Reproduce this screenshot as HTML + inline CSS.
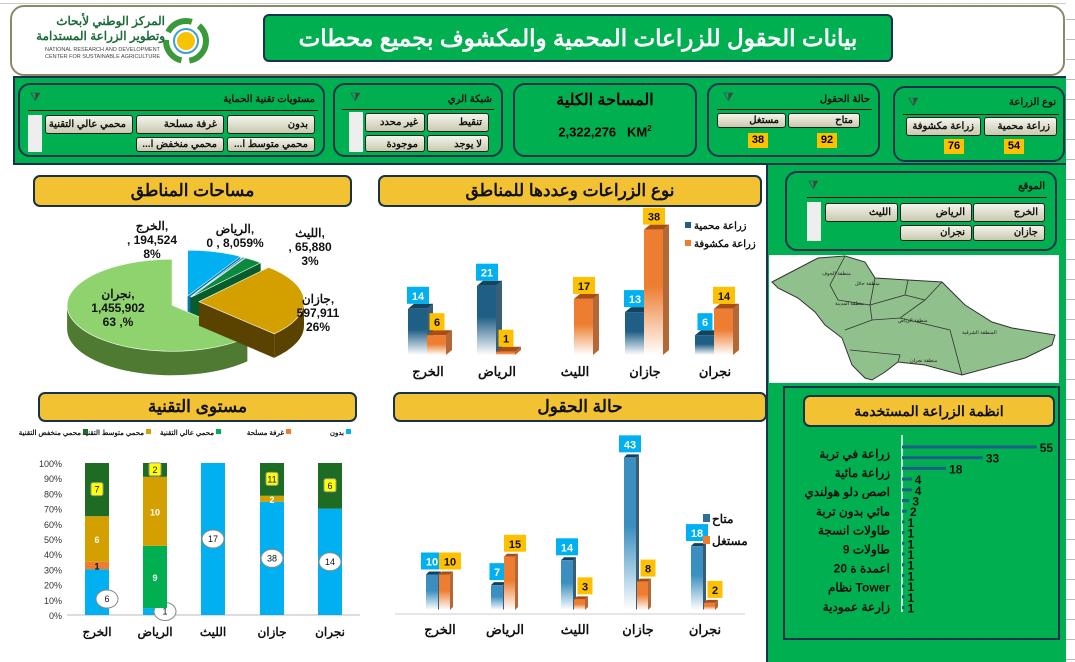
<!DOCTYPE html>
<html><head><meta charset="utf-8">
<style>
*{box-sizing:border-box;margin:0;padding:0}
body{width:1075px;height:662px;overflow:hidden;background:#fff;font-family:"Liberation Sans","Noto Sans CJK SC",sans-serif;position:relative}
.abs{position:absolute}
.green{background:#00b050}
.box{position:absolute;border:2px solid #17324a;border-radius:12px}
.title{position:absolute;background:#f2c232;border:2px solid #17324a;border-radius:7px;text-align:center;font-weight:bold;font-size:17px;color:#111;direction:rtl}
.btn{position:absolute;height:19px;border:1px solid #222;border-radius:3px;background:linear-gradient(#f4f4ec,#c9c9ae);font-size:10px;font-weight:bold;direction:rtl;text-align:right;padding:3px 6px 0;color:#111;white-space:nowrap;overflow:hidden}
.stitle{position:absolute;font-size:10px;font-weight:bold;direction:rtl;color:#111}
.sline{position:absolute;height:1px;background:#111}
.num{position:absolute;background:#ffc000;font-size:11px;font-weight:bold;text-align:center;line-height:15px;height:15px;width:20px}
.ico{position:absolute;font-size:12px;color:#444}
.white{position:absolute;background:#eee;width:14px}
svg text{font-family:"Liberation Sans","Noto Sans CJK SC",sans-serif}
</style></head><body>
<div class="abs" style="left:0;top:0;width:1075px;height:4px;border-bottom:1px solid #ccc"></div>
<div class="abs" style="left:1066px;top:0;width:9px;height:662px;background:repeating-linear-gradient(#fff 0 19px,#bbb 19px 20px)"></div>

<div class="abs" style="left:10px;top:5px;width:1055px;height:71px;border:2px solid #8a8a6a;border-radius:14px;background:#fff"></div>
<div class="abs" style="left:40px;top:14px;width:175px;height:55px">
  <svg width="175" height="55" style="position:absolute;left:0;top:0">
    <circle cx="146" cy="27" r="20" fill="none" stroke="#3a9a3a" stroke-width="6" stroke-dasharray="28 8"/>
    <circle cx="146" cy="27" r="12" fill="none" stroke="#3aa0d8" stroke-width="2"/>
    <circle cx="146" cy="27" r="9" fill="#f5c400"/>
  </svg>
  <div class="abs" style="right:50px;top:0;font-size:12px;font-weight:bold;color:#1d6b3a;direction:rtl;text-align:right;line-height:15px;white-space:nowrap">المركز الوطني لأبحاث<br>وتطوير الزراعة المستدامة</div>
  <div class="abs" style="left:5px;top:33px;font-size:5.5px;color:#444;line-height:7px;white-space:nowrap">NATIONAL RESEARCH AND DEVELOPMENT<br>CENTER FOR SUSTAINABLE AGRICULTURE</div>
</div>
<div class="abs" style="left:263px;top:14px;width:630px;height:48px;background:#00b050;border:2px solid #17324a;border-radius:6px;color:#fff;font-size:23px;font-weight:bold;text-align:center;line-height:44px;direction:rtl">بيانات الحقول للزراعات المحمية والمكشوف بجميع محطات</div>

<div class="abs green" style="left:13px;top:76px;width:1053px;height:89px;border:2px solid #17324a;border-right:none"></div>

<div class="box" style="left:18px;top:83px;width:307px;height:74px"></div>
<div class="stitle" style="left:200px;top:94px;width:115px;text-align:right">مستويات تقنية الحماية</div>
<div class="ico" style="left:30px;top:90px">⧩</div>
<div class="sline" style="left:28px;top:110px;width:290px"></div>
<div class="white" style="left:28px;top:115px;height:37px"></div>
<div class="btn" style="left:227px;top:115px;width:88px">بدون</div>
<div class="btn" style="left:136px;top:115px;width:88px">غرفة مسلحة</div>
<div class="btn" style="left:45px;top:115px;width:88px">محمي عالي التقنية</div>
<div class="btn" style="left:227px;top:137px;width:88px;height:15px;padding-top:1px">محمي متوسط ا...</div>
<div class="btn" style="left:136px;top:137px;width:88px;height:15px;padding-top:1px">محمي منخفض ا...</div>

<div class="box" style="left:333px;top:83px;width:170px;height:74px"></div>
<div class="stitle" style="left:420px;top:94px;width:72px;text-align:right">شبكة الري</div>
<div class="ico" style="left:350px;top:90px">⧩</div>
<div class="sline" style="left:342px;top:109px;width:152px"></div>
<div class="white" style="left:349px;top:112px;height:40px"></div>
<div class="btn" style="left:427px;top:113px;width:62px">تنقيط</div>
<div class="btn" style="left:365px;top:113px;width:60px">غير محدد</div>
<div class="btn" style="left:427px;top:135px;width:62px;height:17px">لا يوجد</div>
<div class="btn" style="left:365px;top:135px;width:60px;height:17px">موجودة</div>

<div class="box" style="left:513px;top:83px;width:184px;height:74px"></div>
<div class="abs" style="left:513px;top:90px;width:184px;text-align:center;font-size:16px;font-weight:bold;direction:rtl">المساحة الكلية</div>
<div class="abs" style="left:513px;top:124px;width:184px;text-align:center;font-size:13px;font-weight:bold">2,322,276&nbsp;&nbsp; KM<sup style="font-size:8px">2</sup></div>

<div class="box" style="left:707px;top:83px;width:173px;height:74px"></div>
<div class="stitle" style="left:800px;top:94px;width:70px;text-align:right">حالة الحقول</div>
<div class="ico" style="left:723px;top:90px">⧩</div>
<div class="sline" style="left:717px;top:109px;width:155px"></div>
<div class="btn" style="left:788px;top:113px;width:72px;height:15px;padding-top:1px">متاح</div>
<div class="btn" style="left:717px;top:113px;width:69px;height:15px;padding-top:1px">مستغل</div>
<div class="num" style="left:817px;top:133px">92</div>
<div class="num" style="left:748px;top:133px">38</div>

<div class="box" style="left:893px;top:86px;width:172px;height:76px"></div>
<div class="stitle" style="left:990px;top:97px;width:66px;text-align:right">نوع الزراعة</div>
<div class="ico" style="left:908px;top:95px">⧩</div>
<div class="sline" style="left:903px;top:114px;width:156px"></div>
<div class="btn" style="left:984px;top:117px;width:73px">زراعة محمية</div>
<div class="btn" style="left:906px;top:117px;width:75px">زراعة مكشوفة</div>
<div class="num" style="left:1004px;top:139px">54</div>
<div class="num" style="left:944px;top:139px">76</div>

<div class="abs green" style="left:766px;top:165px;width:300px;height:497px;border-left:2px solid #17324a"></div>
<div class="box" style="left:785px;top:171px;width:272px;height:80px"></div>
<div class="stitle" style="left:1000px;top:181px;width:45px;text-align:right">الموقع</div>
<div class="ico" style="left:808px;top:178px">⧩</div>
<div class="sline" style="left:807px;top:197px;width:240px"></div>
<div class="white" style="left:807px;top:202px;height:39px"></div>
<div class="btn" style="left:973px;top:203px;width:72px">الخرج</div>
<div class="btn" style="left:900px;top:203px;width:72px">الرياض</div>
<div class="btn" style="left:825px;top:203px;width:73px">الليث</div>
<div class="btn" style="left:973px;top:225px;width:72px;height:16px;padding-top:1px">جازان</div>
<div class="btn" style="left:900px;top:225px;width:72px;height:16px;padding-top:1px">نجران</div>

<svg class="abs" style="left:769px;top:255px" width="290" height="128">
  <rect width="290" height="128" fill="#fff"/>
  <polygon transform="translate(-769,-255)" fill="#90c08c" stroke="#333" stroke-width="1" points="772,282 818,258 845,256 865,262 875,278 908,280 942,282 965,305 992,322 1012,328 1055,335 1052,345 1025,358 962,375 925,365 898,362 885,372 872,380 865,378 852,365 842,338 825,325 815,312 798,298 778,288"/>
  <g transform="translate(-769,-255)" stroke="#333" fill="none" stroke-width="0.8">
    <path d="M845,256 L830,285 L838,300 L870,305 L875,278 M870,305 L905,295 L908,280 M905,295 L925,300 L942,282 M870,305 L872,320 L900,318 L925,300 M872,320 L845,330 M900,318 L950,330 L962,375 M850,350 L900,355 L898,362"/>
  </g>
  <g font-size="5" fill="#222" transform="translate(-769,-255)">
    <text x="822" y="275">منطقة الجوف</text><text x="855" y="285">منطقة حائل</text><text x="898" y="322">منطقة الرياض</text><text x="962" y="334">المنطقة الشرقية</text><text x="835" y="305">منطقة المدينة</text><text x="910" y="362">منطقة نجران</text>
  </g>
</svg>

<div class="abs" style="left:783px;top:386px;width:277px;height:254px;border:2px solid #17324a"></div>

<div class="title" style="left:33px;top:175px;width:319px;height:32px;line-height:28px">مساحات المناطق</div>
<div class="title" style="left:378px;top:175px;width:384px;height:32px;line-height:28px">نوع الزراعات وعددها للمناطق</div>
<div class="title" style="left:38px;top:392px;width:319px;height:30px;line-height:26px">مستوى التقنية</div>
<div class="title" style="left:393px;top:392px;width:374px;height:30px;line-height:26px">حالة الحقول</div>
<div class="title" style="left:803px;top:395px;width:252px;height:32px;line-height:28px;font-size:14px">انظمة الزراعة المستخدمة</div>

<svg id="pie" class="abs" style="left:0;top:210px" width="370" height="175"></svg>
<svg id="bar1" class="abs" style="left:370px;top:207px" width="395" height="180"></svg>
<svg id="bar2" class="abs" style="left:0;top:422px" width="380" height="220"></svg>
<svg id="bar3" class="abs" style="left:380px;top:422px" width="385" height="220"></svg>
<svg id="bar4" class="abs" style="left:785px;top:430px" width="275" height="205"></svg>

<script>
const pieLabels=["الخرج","الرياض","الليث","جازان","نجران"];
const pieValues=[194524,8059,65880,597911,1455902];
const pieText=["الخرج,\n, 194,524\n8%","الرياض,\n0 , 8,059%","الليث,\n, 65,880\n3%","جازان,\n597,911\n26%","نجران,\n1,455,902\n63 ,%"];

const regions=["الخرج","الرياض","الليث","جازان","نجران"];
const protectedVals=[14,21,0,13,6];
const openVals=[6,1,17,38,14];

const techSeries=["بدون","غرفة مسلحة","محمي عالي التقنية","محمي متوسط التقنية","محمي منخفض التقنية"];
const techNone=[6,1,17,38,14];
const techArmored=[1,0,0,0,0];
const techHigh=[0,9,0,0,0];
const techMid=[6,10,0,2,0];
const techLow=[7,2,0,11,6];
const pctTicks=["0%","10%","20%","30%","40%","50%","60%","70%","80%","90%","100%"];

const availVals=[10,7,14,43,18];
const usedVals=[10,15,3,8,2];

const sysValues=[55,33,18,4,4,3,2,1,1,1,1,1,1,1,1,1];
const sysLabels=["زراعة في تربة","زراعة مائية","اصص دلو هولندي","مائي بدون تربة","طاولات انسجة","9 طاولات","20 اعمدة ة","نظام Tower","زارعة عمودية"];

const NS="http://www.w3.org/2000/svg";
function mk(svg,tag,attrs){const e=document.createElementNS(NS,tag);for(const k in attrs)e.setAttribute(k,attrs[k]);svg.appendChild(e);return e;}
function txt(svg,x,y,s,attrs){const e=mk(svg,'text',Object.assign({x:x,y:y},attrs||{}));e.textContent=s;return e;}

function grads(svg){
  const d=mk(svg,'defs',{});
  [["gb","#1f5f86"],["go","#ed7d31"],["gl","#3a8fc0"]].forEach(([id,c])=>{
    const g=document.createElementNS(NS,'linearGradient');g.setAttribute('id',id+svg.id);g.setAttribute('x1',0);g.setAttribute('y1',0);g.setAttribute('x2',0);g.setAttribute('y2',1);
    const s1=document.createElementNS(NS,'stop');s1.setAttribute('offset','0.45');s1.setAttribute('stop-color',c);
    const s2=document.createElementNS(NS,'stop');s2.setAttribute('offset','1');s2.setAttribute('stop-color','#fff');
    g.appendChild(s1);g.appendChild(s2);d.appendChild(g);
  });
}

(function(){
  const svg=document.getElementById('pie');
  const cx=185,cy=92,rx=105,ry=46,dep=24;
  const cols=["#00b0f0","#2e75b6","#0a8a3e","#d4a000","#8fd36e"];
  const side=["#0078a8","#1f4e79","#065c2a","#5a4300","#4f7a32"];
  const expl=[10,10,10,14,14];
  const tot=pieValues.reduce((a,b)=>a+b,0);
  let a=-Math.PI/2;const sl=[];
  pieValues.forEach((v,i)=>{const a2=a+v/tot*2*Math.PI;sl.push([a,a2]);a=a2;});
  const P=(x0,y0,t,dy)=>[x0+rx*Math.cos(t),y0+ry*Math.sin(t)+(dy||0)];
  const order=[0,1,2,4,3];
  order.forEach(i=>{
    const [a1,a2]=sl[i];const m=(a1+a2)/2;
    const ox=cx+expl[i]*Math.cos(m),oy=cy+expl[i]*Math.sin(m)*0.6;
    [a1,a2].forEach(t=>{const p=P(ox,oy,t);
      const w=mk(svg,'path',{d:`M${ox},${oy} L${p[0]},${p[1]} L${p[0]},${p[1]+dep} L${ox},${oy+dep} Z`,fill:side[i]});
      });
    let s=a1,e=a2;
    for(let k=-1;k<=1;k++){
      const lo=Math.max(s,k*2*Math.PI),hi=Math.min(e,k*2*Math.PI+Math.PI);
      if(hi>lo){const p1=P(ox,oy,lo),p2=P(ox,oy,hi);const lg=(hi-lo)>Math.PI?1:0;
        const r=mk(svg,'path',{d:`M${p1[0]},${p1[1]} A${rx},${ry} 0 ${lg} 1 ${p2[0]},${p2[1]} L${p2[0]},${p2[1]+dep} A${rx},${ry} 0 ${lg} 0 ${p1[0]},${p1[1]+dep} Z`,fill:side[i]});
        }
    }
    const p1=P(ox,oy,a1),p2=P(ox,oy,a2);const lg=(a2-a1)>Math.PI?1:0;
    const t=mk(svg,'path',{d:`M${ox},${oy} L${p1[0]},${p1[1]} A${rx},${ry} 0 ${lg} 1 ${p2[0]},${p2[1]} Z`,fill:cols[i],stroke:'#fff','stroke-width':0.6});
    
  });
  const lp=[[152,20],[235,23],[310,27],[318,93],[118,88]];
  pieText.forEach((s,i)=>{s.split('\n').forEach((ln,j)=>{const e=txt(svg,lp[i][0],lp[i][1]+j*14,ln,{'font-size':12,'font-weight':'bold','text-anchor':'middle',fill:'#111'});
    });});
})();

function bar3d(svg,x,w,yTop,yBase,fillId,sideCol,dx,dy){
  if(yBase-yTop<0.5){yTop=yBase-2;}
  const s=mk(svg,'path',{d:`M${x+w},${yTop} L${x+w+dx},${yTop-dy} L${x+w+dx},${yBase-dy} L${x+w},${yBase} Z`,fill:sideCol,opacity:0.85});
  
  const t=mk(svg,'path',{d:`M${x},${yTop} L${x+dx},${yTop-dy} L${x+w+dx},${yTop-dy} L${x+w},${yTop} Z`,fill:sideCol});
  
  const f=mk(svg,'rect',{x:x,y:yTop,width:w,height:yBase-yTop,fill:`url(#${fillId})`});
  
}
function lab(svg,cx,y,s,bg,fg){
  const w=s.length*7+8;
  const r=mk(svg,'rect',{x:cx-w/2,y:y-16,width:w,height:17,fill:bg});
  
  const t=txt(svg,cx,y-3,s,{'font-size':11,'font-weight':'bold','text-anchor':'middle',fill:fg});
  
}

(function(){
  const svg=document.getElementById('bar1');grads(svg);
  const base=148,k=3.3,cxs=[48,117,195,265,335];
  const Y=v=>base-v*k;
  regions.forEach((r,i)=>{
    const x=cxs[i];
    if(protectedVals[i]>0){bar3d(svg,x-10,19,Y(protectedVals[i]),base,'gbbar1','#14435f',6,5);lab(svg,x,Y(protectedVals[i])-6,String(protectedVals[i]),'#00b0f0','#fff');}
    bar3d(svg,x+9,19,Y(openVals[i]),base,'gobar1','#a84d14',6,5);lab(svg,x+19,Y(openVals[i])-6,String(openVals[i]),'#ffc000','#111');
    const t=txt(svg,x+10,169,r,{'font-size':13,'font-weight':'bold','text-anchor':'middle',fill:'#111'});
    
  });
  const lg=[["زراعة محمية","#1f5f86"],["زراعة مكشوفة","#ed7d31"]];
  lg.forEach((l,i)=>{const r=mk(svg,'rect',{x:315,y:15+i*18,width:6,height:6,fill:l[1]});
    const t=txt(svg,324,22+i*18,l[0],{'font-size':10,'font-weight':'bold',fill:'#111'});});
})();

(function(){
  const svg=document.getElementById('bar2');
  const x0=67,x1=360,yb=193,yt=41;
  const Y=p=>yb-(yb-yt)*p;
  pctTicks.forEach((s,i)=>{const t=txt(svg,62,Y(i/10)+4,s,{'font-size':9,'text-anchor':'end',fill:'#333'});});
  const ax=mk(svg,'line',{x1:x0,y1:yb,x2:x1,y2:yb,stroke:'#bbb'});
  const series=[techNone,techArmored,techHigh,techMid,techLow];
  const cols=["#00b0f0","#ed7d31","#00b050","#d4a000","#1e6b24"];
  const cxs=[97,155,213,272,330];
  regions.forEach((r,i)=>{
    const tot=series.reduce((a,s)=>a+s[i],0);let acc=0;
    series.forEach((s,j)=>{
      const v=s[i];if(!v)return;
      const y1=Y(acc/tot),y2=Y((acc+v)/tot);acc+=v;
      const b=mk(svg,'rect',{x:cxs[i]-12,y:y2,width:24,height:y1-y2,fill:cols[j]});
      
      const my=(y1+y2)/2;
      if(j===0){const cyy=i<2?y1-Math.min(16,(y1-y2)/2):my;const cxx=cxs[i]+(i<2?10:0);
        const ex=mk(svg,'ellipse',{cx:cxx,cy:cyy,rx:11,ry:9,fill:'#fff',stroke:'#888'});
        
        const t=txt(svg,cxx,cyy+3,String(v),{'font-size':9,'text-anchor':'middle',fill:'#111'});}
      else if(j===4){const rr=mk(svg,'rect',{x:cxs[i]-6,y:my-7,width:12,height:13,fill:'#ffff00',stroke:'#999',rx:2});
        const t=txt(svg,cxs[i],my+3,String(v),{'font-size':9,'text-anchor':'middle',fill:'#111'});}
      else{const t=txt(svg,cxs[i],my+4,String(v),{'font-size':9,'font-weight':'bold','text-anchor':'middle',fill:j===1?'#111':'#fff'});}
    });
    const t=txt(svg,cxs[i],214,r,{'font-size':12,'font-weight':'bold','text-anchor':'middle',fill:'#111'});
  });
  const lx=[318,258,188,118,55];
  techSeries.forEach((s,j)=>{const r=mk(svg,'rect',{x:lx[j]+28,y:7,width:5,height:5,fill:cols[j]});
    const t=txt(svg,lx[j]+26,13,s,{'font-size':7,'font-weight':'bold','text-anchor':'end',fill:'#111'});});
})();

(function(){
  const svg=document.getElementById('bar3');grads(svg);
  const base=188,k=3.55,cxs=[60,125,195,258,325];
  const Y=v=>base-v*k;
  const ax=mk(svg,'line',{x1:15,y1:base+4,x2:365,y2:base+4,stroke:'#ccc'});
  regions.forEach((r,i)=>{
    const x=cxs[i];
    bar3d(svg,x-14,12,Y(availVals[i]),base,'glbar3','#173f5c',3,3);lab(svg,x-8,Y(availVals[i])-6,String(availVals[i]),'#00b0f0','#fff');
    bar3d(svg,x-1,11,Y(usedVals[i]),base,'gobar3','#a84d14',3,3);lab(svg,x+10,Y(usedVals[i])-6,String(usedVals[i]),'#ffc000','#111');
    const t=txt(svg,x,212,r,{'font-size':13,'font-weight':'bold','text-anchor':'middle',fill:'#111'});
  });
  [["متاح","#2e6f98"],["مستغل","#ed7d31"]].forEach((l,i)=>{const r=mk(svg,'rect',{x:323,y:92+i*22,width:7,height:8,fill:l[1]});
    const t=txt(svg,332,101+i*22,l[0],{'font-size':12,'font-weight':'bold',fill:'#111'});});
})();

(function(){
  const svg=document.getElementById('bar4');
  const x0=117,k=2.45,y0=17,step=10.7;
  const ax=mk(svg,'line',{x1:x0,y1:5,x2:x0,y2:182,stroke:'#fff','stroke-width':1.5});
  sysValues.forEach((v,i)=>{const y=y0+i*step;
    const b=mk(svg,'rect',{x:x0,y:y-1.5,width:v*k,height:3,fill:'#1f5f86'});
    const t=txt(svg,x0+v*k+3,y+5,String(v),{'font-size':12,'font-weight':'bold',fill:'#111'});});
  sysLabels.forEach((s,i)=>{const t=txt(svg,105,28+i*19.1,s,{'font-size':12,'font-weight':'bold','text-anchor':'end',fill:'#111'});});
})();
</script>
</body></html>
